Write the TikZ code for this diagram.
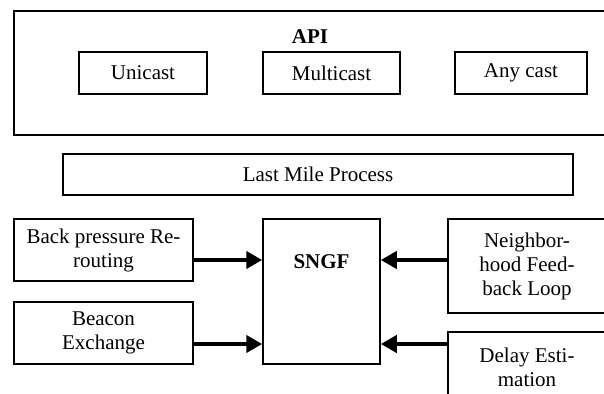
\documentclass[tikz,border=0pt]{standalone}
\usepackage{fontspec}
\setmainfont{Liberation Serif}
\usetikzlibrary{arrows.meta}

\tikzset{
  blockbox/.style={shape=rectangle,draw=black,line width=1.5pt,inner sep=0pt,align=center},
  bigarrow/.style={line width=4pt,-{Triangle[length=16pt,width=17pt]}}
}

\begin{document}
\begin{tikzpicture}[x=1pt,y=-1pt,font=\fontsize{21}{24}\selectfont]
        \useasboundingbox (0,0) rectangle (604,393);
        \clip (0,0) rectangle (604,393);
        \node[blockbox,minimum width=596pt,minimum height=124pt] (api) at (312,73){};
        \node[font=\fontsize{21}{24}\selectfont\bfseries] (apitext) at (310,37){API};
        \node[blockbox,minimum width=128pt,minimum height=42pt] (uni) at (143,73){Unicast};
        \node[blockbox,minimum width=137pt,minimum height=42pt] (multi) at (331.5,73){Multicast};
        \node[blockbox,minimum width=132pt,minimum height=42pt] (any) at (521,73){Any cast};
        \node[blockbox,minimum width=510pt,minimum height=41pt] (last) at (318,174.5){Last Mile Process};
        \node[blockbox,minimum width=179pt,minimum height=62pt] (back) at (103.5,250){Back pressure Re-\\routing};
        \node[blockbox,minimum width=179pt,minimum height=62pt] (beacon) at (103.5,333){Beacon\\Exchange};
        \node[blockbox,minimum width=117pt,minimum height=145pt] (sngf) at (321.5,291.5){};
        \node[font=\fontsize{21}{24}\selectfont\bfseries] (sngftext) at (321.5,262){SNGF};
        \node[blockbox,minimum width=158pt,minimum height=94pt] (neigh) at (527,266){Neighbor-\\hood Feed-\\back Loop};
        \node[blockbox,minimum width=158pt,minimum height=70pt] (delay) at (527,367){Delay Esti-\\mation};
        \path [bigarrow]([yshift=-10pt]back.east) edge ([yshift=-10pt]back.east -| sngf.west);
        \path [bigarrow]([yshift=-11pt]beacon.east) edge ([yshift=-11pt]beacon.east -| sngf.west);
        \path [bigarrow]([yshift=6pt]neigh.west) edge ([yshift=6pt]neigh.west -| sngf.east);
        \path [bigarrow]([yshift=23pt]delay.west) edge ([yshift=23pt]delay.west -| sngf.east);
    \end{tikzpicture}
\end{document}
